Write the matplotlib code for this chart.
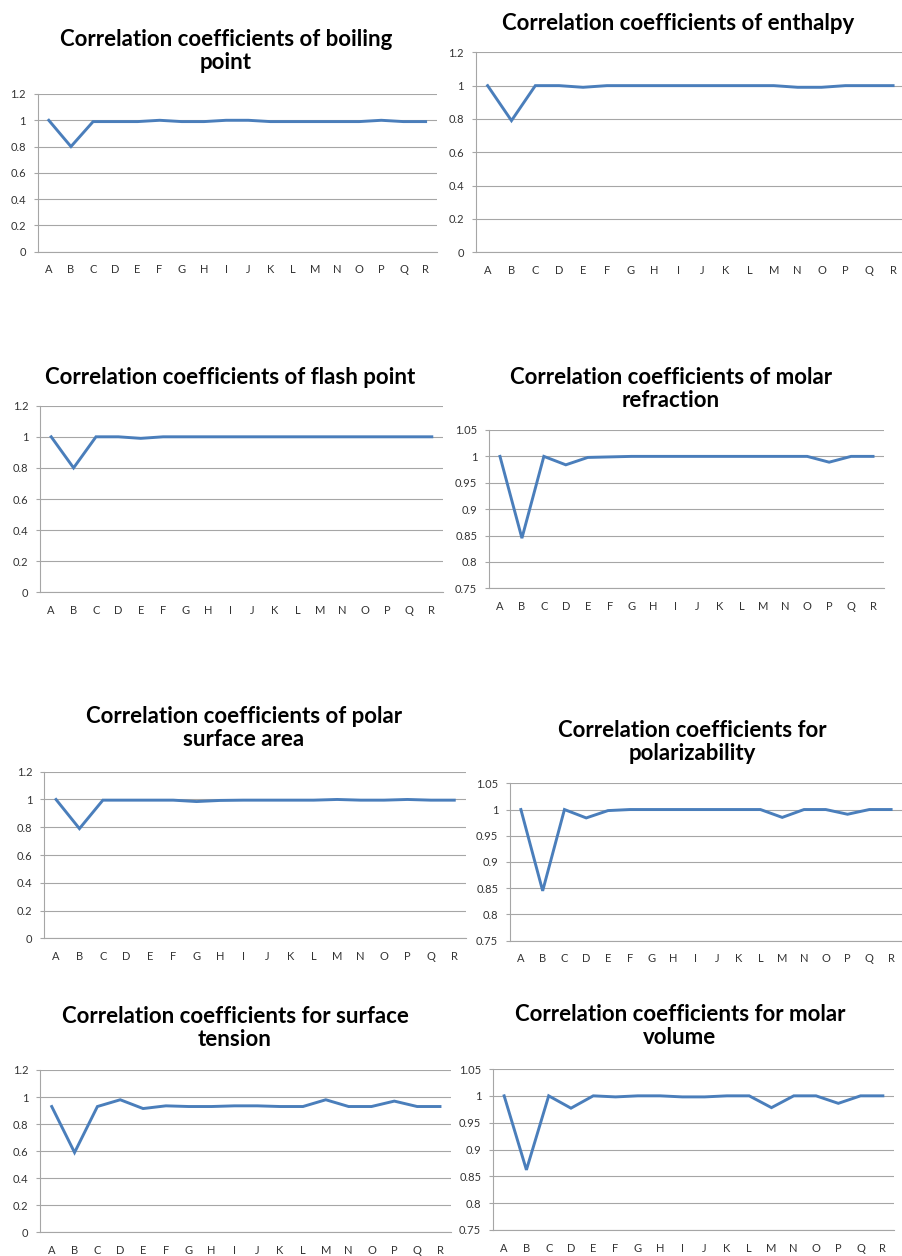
import matplotlib
matplotlib.use("Agg")
import matplotlib.pyplot as plt
import numpy as np

categories = list("ABCDEFGHIJKLMNOPQR")

boiling_point = [1.0, 0.80, 0.99, 0.99, 0.99, 1.0, 0.99, 0.99, 1.0, 1.0, 0.99, 0.99, 0.99, 0.99, 0.99, 1.0, 0.99, 0.99]
enthalpy = [1.0, 0.79, 1.0, 1.0, 0.99, 1.0, 1.0, 1.0, 1.0, 1.0, 1.0, 1.0, 1.0, 0.99, 0.99, 1.0, 1.0, 1.0]
flash_point = [1.0, 0.80, 1.0, 1.0, 0.99, 1.0, 1.0, 1.0, 1.0, 1.0, 1.0, 1.0, 1.0, 1.0, 1.0, 1.0, 1.0, 1.0]
molar_refraction = [1.0, 0.845, 1.0, 0.984, 0.998, 0.999, 1.0, 1.0, 1.0, 1.0, 1.0, 1.0, 1.0, 1.0, 1.0, 0.989, 1.0, 1.0]
polar_surface_area = [1.0, 0.79, 0.995, 0.995, 0.995, 0.995, 0.985, 0.993, 0.995, 0.995, 0.995, 0.995, 1.0, 0.995, 0.995, 1.0, 0.995, 0.995]
polarizability = [1.0, 0.845, 1.0, 0.984, 0.998, 1.0, 1.0, 1.0, 1.0, 1.0, 1.0, 1.0, 0.985, 1.0, 1.0, 0.991, 1.0, 1.0]
surface_tension = [0.93, 0.59, 0.93, 0.98, 0.915, 0.935, 0.93, 0.93, 0.935, 0.935, 0.93, 0.93, 0.98, 0.93, 0.93, 0.97, 0.93, 0.93]
molar_volume = [1.0, 0.862, 1.0, 0.977, 1.0, 0.998, 1.0, 1.0, 0.998, 0.998, 1.0, 1.0, 0.978, 1.0, 1.0, 0.986, 1.0, 1.0]

titles = [
    "Correlation coefficients of boiling\npoint",
    "Correlation coefficients of enthalpy",
    "Correlation coefficients of flash point",
    "Correlation coefficients of molar\nrefraction",
    "Correlation coefficients of polar\nsurface area",
    "Correlation coefficients for\npolarizability",
    "Correlation coefficients for surface\ntension",
    "Correlation coefficients for molar\nvolume",
]
series = [boiling_point, enthalpy, flash_point, molar_refraction,
          polar_surface_area, polarizability, surface_tension, molar_volume]
ticks_a = [0, 0.2, 0.4, 0.6, 0.8, 1, 1.2]
ticks_b = [0.75, 0.8, 0.85, 0.9, 0.95, 1, 1.05]
tick_sets = [ticks_a, ticks_a, ticks_a, ticks_b, ticks_a, ticks_b, ticks_a, ticks_b]

W, H = 903, 1256
# axes boxes in pixels: left, right, top, bottom ; title center x, title center y
boxes = [
    (37.7, 436.7, 94, 251.7, 226, 51),
    (475.7, 905, 52.3, 252.3, 678, 23),
    (40, 443, 405.7, 592.3, 230, 378),
    (489, 884, 430, 588.3, 671, 389),
    (44.3, 466, 771.7, 938.3, 244, 728),
    (510, 902, 783.3, 940.7, 692, 742),
    (40.3, 451.4, 1070, 1232.3, 235, 1028),
    (493, 894, 1069, 1230, 680, 1026),
]

fig = plt.figure(figsize=(W / 100, H / 100), dpi=100)
fig.patch.set_facecolor("white")
font = ["Lato", "DejaVu Sans"]
grid_c = "#A6A6A6"
line_c = "#4A7EBB"

for (l, r, t, b, tx, ty), title, vals, ticks in zip(boxes, titles, series, tick_sets):
    ax = fig.add_axes([l / W, 1 - b / H, (r - l) / W, (b - t) / H])
    x = np.arange(len(categories))
    ax.plot(x, vals, color=line_c, lw=2.1, solid_joinstyle="miter", clip_on=False, zorder=3)
    ax.set_xlim(-0.5, len(categories) - 0.5)
    ax.set_ylim(ticks[0], ticks[-1])
    ax.set_yticks(ticks)
    ax.set_yticklabels([f"{v:g}" for v in ticks], fontsize=8, color="#333333", family=font)
    ax.set_xticks(x)
    ax.set_xticklabels(categories, fontsize=8, color="#333333", family=font)
    ax.tick_params(axis="x", length=0, pad=9)
    ax.tick_params(axis="y", length=3, width=0.8, color=grid_c, pad=5.5)
    ax.grid(axis="y", color=grid_c, lw=0.8)
    ax.set_axisbelow(True)
    for s in ["top", "right"]:
        ax.spines[s].set_visible(False)
    for s in ["left", "bottom"]:
        ax.spines[s].set_color(grid_c)
        ax.spines[s].set_linewidth(0.8)
    fig.text(tx / W, 1 - ty / H, title, ha="center", va="center", fontsize=16,
             fontweight="bold", family=font, linespacing=1.15)

fig.savefig("out.png", dpi=100, facecolor="white")
